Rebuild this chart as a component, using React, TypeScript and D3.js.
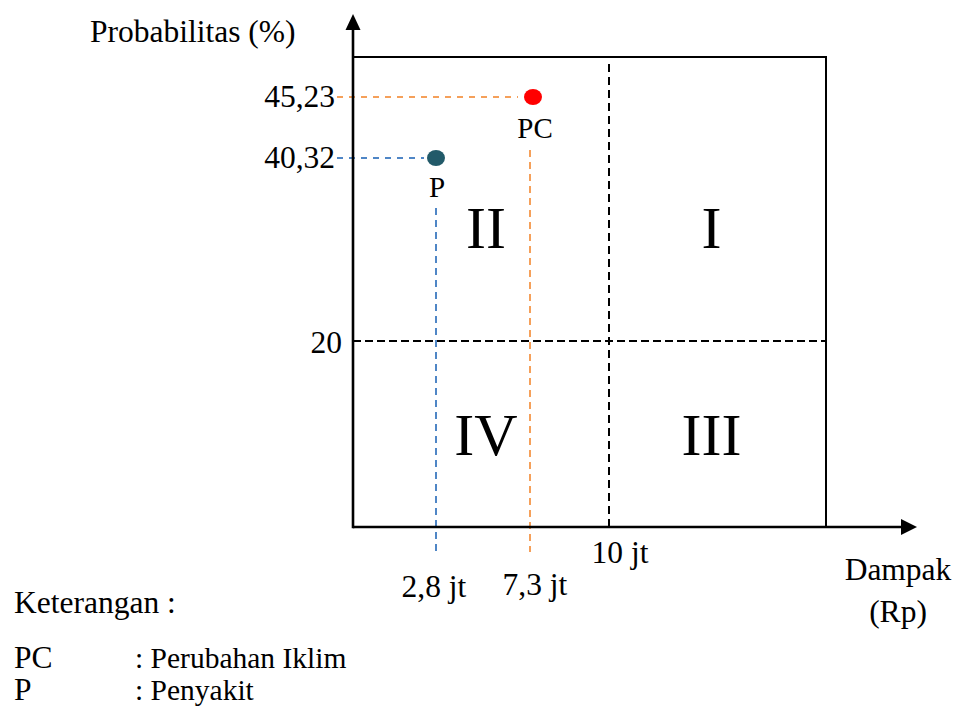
import React from "react";
import * as d3 from "d3";

const riskCodes = ["PC", "P"];
const riskNames = ["Perubahan Iklim", "Penyakit"];
const impactValues = [7.3, 2.8];
const probabilityValues = [45.23, 40.32];
const impactLabels = ["7,3 jt", "2,8 jt"];
const probabilityLabels = ["45,23", "40,32"];
const pointColors = ["#ff0000", "#225a69"];
const guideColors = ["#f5a05a", "#4f86c6"];
const impactThreshold = 10;
const impactThresholdLabel = "10 jt";
const probabilityThreshold = 20;
const probabilityThresholdLabel = "20";
const quadrantLabels = ["I", "II", "III", "IV"];

const FONT = "'Liberation Serif', 'Times New Roman', serif";

export default function App() {
  const W = 957;
  const H = 707;
  // piecewise (non-proportional) scales as in the conceptual diagram
  const x = d3
    .scaleLinear()
    .domain([0, 2.8, 7.3, impactThreshold, 20])
    .range([353, 436, 530, 609, 826]);
  const y = d3
    .scaleLinear()
    .domain([0, probabilityThreshold, 40.32, 45.23, 50])
    .range([527, 341, 158, 97, 57]);

  const x0 = x(0);
  const x1 = x(20);
  const y0 = y(0);
  const y1 = y(50);
  const xt = x(impactThreshold);
  const yt = y(probabilityThreshold);

  const fs = 31.5;

  const quadPos = [
    { label: quadrantLabels[0], cx: (xt + x1) / 2 - 6, by: yt - 93 },
    { label: quadrantLabels[1], cx: (x0 + xt) / 2 + 5, by: yt - 93 },
    { label: quadrantLabels[2], cx: (xt + x1) / 2 - 6, by: yt + 114 },
    { label: quadrantLabels[3], cx: (x0 + xt) / 2 + 5, by: yt + 114 },
  ];

  return (
    <svg
      width={W}
      height={H}
      style={{ position: "absolute", left: 0, top: 0, background: "#fff" }}
      fontFamily={FONT}
    >
      <rect x={0} y={0} width={W} height={H} fill="#fff" />

      {/* box top & right */}
      <line x1={x0} y1={y1} x2={x1 + 1} y2={y1} stroke="#000" strokeWidth={2} />
      <line x1={x1} y1={y1} x2={x1} y2={y0} stroke="#000" strokeWidth={2} />

      {/* threshold dashed lines */}
      <line x1={xt} y1={y1 + 7} x2={xt} y2={y0} stroke="#000" strokeWidth={2} strokeDasharray="8,5" />
      <line x1={x0} y1={yt} x2={x1} y2={yt} stroke="#000" strokeWidth={2} strokeDasharray="8,4" />

      {/* guide lines per risk */}
      {riskCodes.map((c, i) => {
        const px = x(impactValues[i]);
        const py = y(probabilityValues[i]);
        return (
          <g key={"g" + c}>
            <line x1={337} y1={py} x2={px - 12} y2={py} stroke={guideColors[i]} strokeWidth={2} strokeDasharray="6,6" />
            <line
              x1={px}
              y1={py + (i === 0 ? 53 : 50)}
              x2={px}
              y2={y0 + 25}
              stroke={guideColors[i]}
              strokeWidth={2}
              strokeDasharray="7,5"
            />
          </g>
        );
      })}

      {/* axes */}
      <line x1={x0} y1={y0} x2={902} y2={y0} stroke="#000" strokeWidth={2.6} />
      <path d={`M917,${y0} L901,${y0 - 8} L901,${y0 + 8} Z`} fill="#000" />
      <line x1={x0} y1={y0 + 1.3} x2={x0} y2={29} stroke="#000" strokeWidth={2.6} />
      <path d={`M${x0},14 L${x0 - 7.5},30 L${x0 + 7.5},30 Z`} fill="#000" />

      {/* points */}
      {riskCodes.map((c, i) => (
        <g key={"p" + c}>
          <ellipse
            cx={x(impactValues[i]) + (i === 0 ? 3 : 0)}
            cy={y(probabilityValues[i])}
            rx={9}
            ry={8}
            fill={pointColors[i]}
          />
          <text
            x={x(impactValues[i]) + (i === 0 ? 5 : 1)}
            y={y(probabilityValues[i]) + (i === 0 ? 41 : 39)}
            textAnchor="middle"
            fontSize={29}
          >
            {c}
          </text>
        </g>
      ))}

      {/* y tick labels */}
      {probabilityLabels.map((l, i) => (
        <text key={"yl" + l} x={335} y={y(probabilityValues[i]) + 10} textAnchor="end" fontSize={fs}>
          {l}
        </text>
      ))}
      <text x={342} y={yt + 12} textAnchor="end" fontSize={fs}>
        {probabilityThresholdLabel}
      </text>

      {/* x tick labels */}
      {impactLabels.map((l, i) => (
        <text
          key={"xl" + l}
          x={x(impactValues[i]) + (i === 0 ? 5 : -2)}
          y={y0 + (i === 0 ? 68 : 70)}
          textAnchor="middle"
          fontSize={fs}
        >
          {l}
        </text>
      ))}
      <text x={xt + 11} y={y0 + 36} textAnchor="middle" fontSize={fs}>
        {impactThresholdLabel}
      </text>

      {/* quadrant labels */}
      {quadPos.map((q) => (
        <text key={"q" + q.label} x={q.cx} y={q.by} textAnchor="middle" fontSize={60}>
          {q.label}
        </text>
      ))}

      {/* axis titles */}
      <text x={90} y={42} fontSize={fs}>
        Probabilitas (%)
      </text>
      <text x={898} y={580} textAnchor="middle" fontSize={fs}>
        Dampak
      </text>
      <text x={898} y={622} textAnchor="middle" fontSize={fs}>
        (Rp)
      </text>

      {/* legend */}
      <text x={14} y={613} fontSize={fs}>
        Keterangan :
      </text>
      {riskCodes.map((c, i) => (
        <g key={"lg" + c}>
          <text x={14} y={668 + i * 32} fontSize={fs}>
            {c}
          </text>
          <text x={135} y={668 + i * 32} fontSize={29.5}>
            {": " + riskNames[i]}
          </text>
        </g>
      ))}
    </svg>
  );
}
